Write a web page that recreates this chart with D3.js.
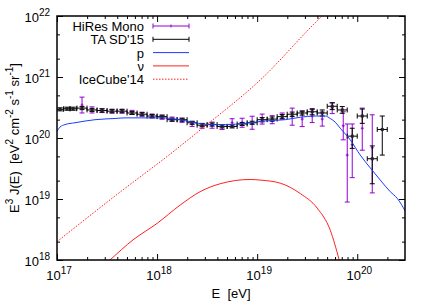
<!DOCTYPE html>
<html>
<head>
<meta charset="utf-8">
<script src="https://cdn.jsdelivr.net/npm/d3@7"></script>
<style>
  body { margin: 0; background: white; }
  svg text { font-family: "Liberation Sans", Arial, sans-serif; }
</style>
</head>
<body>
<div id="chart"></div>
<script>
// all values are log10 of E [eV] and log10 of E^3 J(E) [eV^2 cm^-2 s^-1 sr^-1]

// HiRes Mono (purple, y errors only)
var hiresE = [17.25, 17.35, 17.45, 17.55, 17.65, 17.75, 17.85, 17.95, 18.05, 18.15, 18.25, 18.35, 18.45, 18.55, 18.65, 18.75, 18.85, 18.95, 19.05, 19.15, 19.25, 19.35, 19.45, 19.55, 19.65, 19.75, 19.86, 19.90, 19.95, 20.05, 20.15];
var hiresJ = [20.54, 20.46, 20.45, 20.44, 20.44, 20.42, 20.39, 20.36, 20.34, 20.31, 20.29, 20.23, 20.20, 20.21, 20.18, 20.25, 20.25, 20.25, 20.31, 20.30, 20.36, 20.35, 20.31, 20.36, 20.31, 20.49, 20.20, 19.72, 19.89, 20.16, 19.84];
var hiresUp = [0.13, 0.05, 0.033, 0.033, 0.033, 0.033, 0.033, 0.033, 0.033, 0.033, 0.033, 0.04, 0.04, 0.05, 0.04, 0.066, 0.074, 0.107, 0.082, 0.066, 0.05, 0.14, 0.123, 0.107, 0.115, 0.09, 0.23, 0.51, 0.34, 0.33, 0.54];
var hiresDown = [0.13, 0.05, 0.033, 0.033, 0.033, 0.033, 0.033, 0.033, 0.033, 0.033, 0.033, 0.04, 0.04, 0.05, 0.04, 0.066, 0.074, 0.107, 0.082, 0.066, 0.05, 0.14, 0.123, 0.107, 0.115, 0.09, 0.23, 0.77, 0.54, 0.36, 0.74];

// TA SD'15 (black, x and y errors)
var taE = [17.03, 17.10, 17.16, 17.25, 17.35, 17.45, 17.55, 17.65, 17.75, 17.85, 17.95, 18.05, 18.15, 18.25, 18.35, 18.45, 18.55, 18.65, 18.75, 18.85, 18.95, 19.05, 19.15, 19.25, 19.35, 19.45, 19.55, 19.65, 19.75, 19.85, 19.95, 20.05, 20.15, 20.25];
var taJ = [20.47, 20.48, 20.48, 20.49, 20.46, 20.45, 20.44, 20.44, 20.41, 20.39, 20.36, 20.35, 20.30, 20.30, 20.25, 20.21, 20.22, 20.19, 20.19, 20.23, 20.25, 20.30, 20.31, 20.35, 20.39, 20.41, 20.43, 20.41, 20.52, 20.46, 20.03, 20.36, 19.66, 20.14];
var taBin = [0.033, 0.033, 0.033, 0.05, 0.05, 0.05, 0.05, 0.05, 0.05, 0.05, 0.05, 0.05, 0.05, 0.05, 0.05, 0.05, 0.05, 0.05, 0.05, 0.05, 0.05, 0.05, 0.05, 0.05, 0.05, 0.05, 0.05, 0.05, 0.05, 0.05, 0.05, 0.05, 0.05, 0.05];
var taUp = [0.025, 0.025, 0.025, 0.025, 0.025, 0.025, 0.025, 0.025, 0.025, 0.025, 0.025, 0.025, 0.025, 0.025, 0.025, 0.025, 0.025, 0.025, 0.025, 0.025, 0.025, 0.035, 0.035, 0.035, 0.035, 0.035, 0.05, 0.05, 0.055, 0.055, 0.13, 0.115, 0.21, 0.22];
var taDown = [0.025, 0.025, 0.025, 0.025, 0.025, 0.025, 0.025, 0.025, 0.025, 0.025, 0.025, 0.025, 0.025, 0.025, 0.025, 0.025, 0.025, 0.025, 0.025, 0.025, 0.025, 0.035, 0.035, 0.035, 0.035, 0.035, 0.05, 0.05, 0.055, 0.055, 0.2, 0.12, 0.41, 0.42];

// proton model (blue)
var protonE = [17.00, 17.03, 17.08, 17.18, 17.38, 17.58, 17.68, 17.83, 18.03, 18.23, 18.38, 18.53, 18.68, 18.88, 19.08, 19.28, 19.43, 19.58, 19.68, 19.73, 19.78, 19.83, 19.93, 20.03, 20.13, 20.23, 20.33, 20.40, 20.48];
var protonJ = [20.11, 20.18, 20.22, 20.25, 20.30, 20.32, 20.33, 20.33, 20.33, 20.30, 20.25, 20.22, 20.22, 20.24, 20.28, 20.30, 20.34, 20.36, 20.36, 20.32, 20.26, 20.16, 19.97, 19.72, 19.51, 19.31, 19.12, 19.01, 18.80];

// neutrino model (red)
var nuE = [17.53, 17.76, 18.00, 18.23, 18.43, 18.63, 18.93, 19.03, 19.23, 19.43, 19.60, 19.73, 19.82];
var nuJ = [18.00, 18.33, 18.60, 18.90, 19.12, 19.25, 19.32, 19.31, 19.26, 19.09, 18.85, 18.49, 18.00];

// IceCube'14 limit (red dotted)
var iceE = [17.00, 17.58, 18.18, 18.43, 19.03, 19.65, 19.75];
var iceJ = [18.30, 19.05, 19.80, 20.13, 20.95, 22.00, 22.15];

var xMajor = [17, 18, 19, 20];
var yMajor = [18, 19, 20, 21, 22];

var width = 436, height = 303;
var mLeft = 57, mRight = 405, mTop = 16, mBottom = 260;

var svg = d3.select("#chart")
  .append("svg")
  .attr("width", width)
  .attr("height", height)
  .style("background-color", "white");

var x = d3.scaleLog().domain([1e17, 3e20]).range([mLeft, mRight]);
var y = d3.scaleLog().domain([1e18, 1e22]).range([mBottom, mTop]);

var p10 = function (v) { return Math.pow(10, v); };

// minor ticks: 2..9 on x, 2 and 5 on y
var xMinor = [];
xMajor.forEach(function (d) {
  for (var m = 2; m <= 9; m++) {
    if (m * p10(d) < 3e20) xMinor.push(m * p10(d));
  }
});
var yMinor = [];
yMajor.slice(0, -1).forEach(function (d) {
  yMinor.push(2 * p10(d));
  yMinor.push(5 * p10(d));
});

//Ticks (inward, mirrored)
function tickAxis(axis, tr) {
  var g = svg.append("g").attr("transform", tr).call(axis);
  g.select(".domain").remove();
  g.selectAll("line").attr("stroke", "black").attr("stroke-width", 1);
  g.selectAll("text").remove();
}
var xMaj = xMajor.map(p10), yMaj = yMajor.map(p10);
tickAxis(d3.axisBottom(x).tickValues(xMaj).tickSizeInner(-6).tickSizeOuter(0), "translate(0," + mBottom + ")");
tickAxis(d3.axisBottom(x).tickValues(xMinor).tickSizeInner(-3).tickSizeOuter(0), "translate(0," + mBottom + ")");
tickAxis(d3.axisTop(x).tickValues(xMaj).tickSizeInner(-6).tickSizeOuter(0), "translate(0," + mTop + ")");
tickAxis(d3.axisTop(x).tickValues(xMinor).tickSizeInner(-3).tickSizeOuter(0), "translate(0," + mTop + ")");
tickAxis(d3.axisLeft(y).tickValues(yMaj).tickSizeInner(-6).tickSizeOuter(0), "translate(" + mLeft + ",0)");
tickAxis(d3.axisLeft(y).tickValues(yMinor).tickSizeInner(-3).tickSizeOuter(0), "translate(" + mLeft + ",0)");
tickAxis(d3.axisRight(y).tickValues(yMaj).tickSizeInner(-6).tickSizeOuter(0), "translate(" + mRight + ",0)");
tickAxis(d3.axisRight(y).tickValues(yMinor).tickSizeInner(-3).tickSizeOuter(0), "translate(" + mRight + ",0)");

//Tick labels as 10^n
function powLabel(px, py, n, anchor) {
  var t = svg.append("text")
    .attr("x", px)
    .attr("y", py)
    .attr("text-anchor", anchor)
    .attr("font-size", 13)
    .attr("fill", "black");
  t.append("tspan").text("10");
  t.append("tspan").attr("dy", -6).attr("font-size", 10).text(n);
}
xMajor.forEach(function (d) { powLabel(x(p10(d)) + 2, 280, d, "middle"); });
yMajor.forEach(function (d) { powLabel(50, y(p10(d)) + 5.5, d, "end"); });

//Axis titles
svg.append("text")
  .attr("x", (mLeft + mRight) / 2)
  .attr("y", 298)
  .attr("text-anchor", "middle")
  .attr("font-size", 13)
  .text("E\u00a0\u00a0[eV]");

var yt = svg.append("text")
  .attr("transform", "translate(19," + (mTop + mBottom) / 2 + ") rotate(-90)")
  .attr("text-anchor", "middle")
  .attr("font-size", 13);
var ytParts = [["E", 0], ["3", 1], [" J(E)\u00a0\u00a0[eV", 0], ["2", 1], [" cm", 0], ["-2", 1], [" s", 0], ["-1", 1], [" sr", 0], ["-1", 1], ["]", 0]];
var lastSup = 0;
ytParts.forEach(function (p) {
  var ts = yt.append("tspan").text(p[0]);
  var dy = (p[1] - lastSup) * -6;
  if (dy !== 0) ts.attr("dy", dy);
  if (p[1]) ts.attr("font-size", 10);
  lastSup = p[1];
});

//Plot area
svg.append("clipPath").attr("id", "clip")
  .append("rect")
  .attr("x", mLeft).attr("y", mTop)
  .attr("width", mRight - mLeft).attr("height", mBottom - mTop);

var plot = svg.append("g").attr("clip-path", "url(#clip)");

var purple = "#9400d3";
var cap = 2.5;

//HiRes Mono
hiresE.forEach(function (e, i) {
  var cx = x(p10(e));
  var cy = y(p10(hiresJ[i]));
  var y1 = y(p10(hiresJ[i] + hiresUp[i]));
  var y2 = y(p10(hiresJ[i] - hiresDown[i]));
  plot.append("line").attr("x1", cx).attr("x2", cx).attr("y1", y1).attr("y2", y2)
    .attr("stroke", purple).attr("stroke-width", 1);
  [y1, y2].forEach(function (yy) {
    plot.append("line").attr("x1", cx - cap).attr("x2", cx + cap).attr("y1", yy).attr("y2", yy)
      .attr("stroke", purple).attr("stroke-width", 1);
  });
  plot.append("path").attr("d", "M" + (cx - 1.5) + "," + cy + "h3M" + cx + "," + (cy - 1.5) + "v3")
    .attr("stroke", purple).attr("stroke-width", 1);
});

//TA SD'15
taE.forEach(function (e, i) {
  var cx = x(p10(e));
  var cy = y(p10(taJ[i]));
  var x1 = x(p10(e - taBin[i]));
  var x2 = x(p10(e + taBin[i]));
  var y1 = y(p10(taJ[i] + taUp[i]));
  var y2 = y(p10(taJ[i] - taDown[i]));
  var g = plot.append("g").attr("stroke", "black").attr("stroke-width", 1);
  g.append("line").attr("x1", cx).attr("x2", cx).attr("y1", y1).attr("y2", y2);
  g.append("line").attr("x1", x1).attr("x2", x2).attr("y1", cy).attr("y2", cy);
  [y1, y2].forEach(function (yy) {
    g.append("line").attr("x1", cx - cap).attr("x2", cx + cap).attr("y1", yy).attr("y2", yy);
  });
  [x1, x2].forEach(function (xx) {
    g.append("line").attr("x1", xx).attr("x2", xx).attr("y1", cy - cap).attr("y2", cy + cap);
  });
  plot.append("rect").attr("x", cx - 1.5).attr("y", cy - 1.5).attr("width", 3).attr("height", 3)
    .attr("fill", "#222");
});

//Model curves
var line = d3.line()
  .x(function (d) { return x(p10(d[0])); })
  .y(function (d) { return y(p10(d[1])); })
  .curve(d3.curveMonotoneX);

plot.append("path")
  .attr("d", line(d3.zip(protonE, protonJ)))
  .attr("fill", "none").attr("stroke", "#1a3cff").attr("stroke-width", 1);

plot.append("path")
  .attr("d", line(d3.zip(nuE, nuJ)))
  .attr("fill", "none").attr("stroke", "#ff2020").attr("stroke-width", 1);

plot.append("path")
  .attr("d", line(d3.zip(iceE, iceJ)))
  .attr("fill", "none").attr("stroke", "#ff2020").attr("stroke-width", 1)
  .attr("stroke-dasharray", "1.5,1.5");

//Legend
var legendNames = ["HiRes Mono", "TA SD'15", "p", "\u03bd", "IceCube'14"];
var legendY = [26, 39.3, 52.6, 65.9, 79.2];
var lx1 = 153, lx2 = 189;
legendNames.forEach(function (name, i) {
  svg.append("text")
    .attr("x", 144)
    .attr("y", legendY[i] + 5)
    .attr("text-anchor", "end")
    .attr("font-size", 13)
    .text(name);
});
// HiRes sample
var ly = legendY[0];
svg.append("path").attr("d", "M" + lx1 + "," + ly + "H" + lx2 + "M" + lx1 + "," + (ly - cap) + "v5M" + lx2 + "," + (ly - cap) + "v5M" + ((lx1 + lx2) / 2) + "," + (ly - 1.5) + "v3")
  .attr("stroke", purple).attr("stroke-width", 1).attr("fill", "none");
// TA sample
ly = legendY[1];
svg.append("path").attr("d", "M" + lx1 + "," + ly + "H" + lx2 + "M" + lx1 + "," + (ly - cap) + "v5M" + lx2 + "," + (ly - cap) + "v5")
  .attr("stroke", "black").attr("stroke-width", 1).attr("fill", "none");
svg.append("line").attr("x1", lx1).attr("x2", lx2).attr("y1", legendY[2]).attr("y2", legendY[2])
  .attr("stroke", "#1a3cff").attr("stroke-width", 1);
svg.append("line").attr("x1", lx1).attr("x2", lx2).attr("y1", legendY[3]).attr("y2", legendY[3])
  .attr("stroke", "#ff2020").attr("stroke-width", 1);
svg.append("line").attr("x1", lx1).attr("x2", lx2).attr("y1", legendY[4]).attr("y2", legendY[4])
  .attr("stroke", "#ff2020").attr("stroke-width", 1).attr("stroke-dasharray", "1.5,1.5");

//Border
svg.append("rect")
  .attr("x", mLeft).attr("y", mTop)
  .attr("width", mRight - mLeft).attr("height", mBottom - mTop)
  .attr("fill", "none").attr("stroke", "black").attr("stroke-width", 1.5);
</script>
</body>
</html>
